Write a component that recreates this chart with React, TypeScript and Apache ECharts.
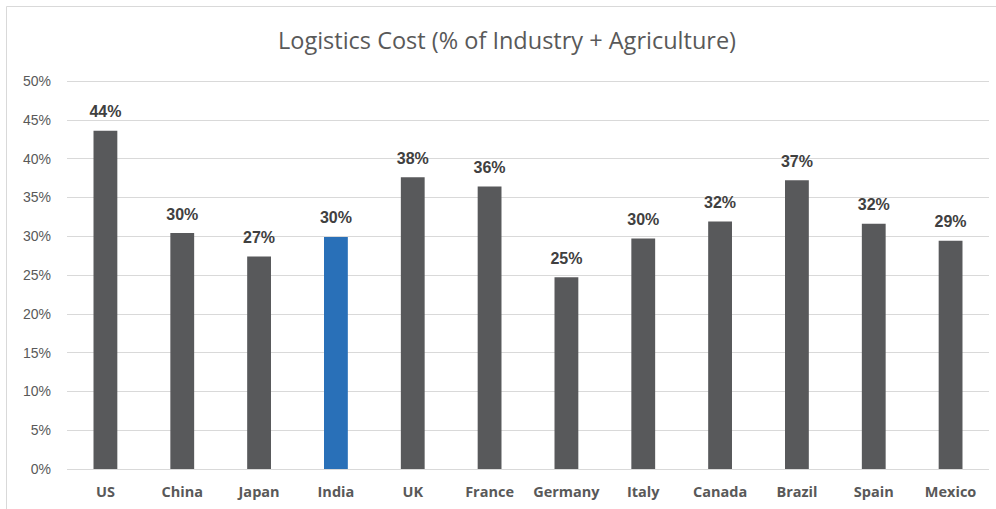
import React, { useEffect, useRef } from "react";
import * as echarts from "echarts";

const categories = ["US", "China", "Japan", "India", "UK", "France", "Germany", "Italy", "Canada", "Brazil", "Spain", "Mexico"];
const values = [43.6, 30.4, 27.4, 29.9, 37.6, 36.4, 24.7, 29.7, 31.9, 37.2, 31.6, 29.4];
const highlight = "India";
const yTicks = [0, 5, 10, 15, 20, 25, 30, 35, 40, 45, 50];
const titleText = "Logistics Cost (% of Industry + Agriculture)";

export default function App() {
  const ref = useRef<HTMLDivElement>(null);
  useEffect(() => {
    document.body.style.margin = "0";
    const chart = echarts.init(ref.current!, null, { renderer: "svg" });
    chart.setOption({
      animation: false,
      backgroundColor: "#ffffff",
      title: {
        text: titleText,
        left: 278,
        top: 28,
        padding: 0,
        textStyle: { fontFamily: "Open Sans", fontSize: 23.5, fontWeight: "normal", color: "#595959" },
      },
      graphic: [
        {
          type: "rect",
          shape: { x: 6.5, y: 6.5, width: 1000, height: 520 },
          style: { fill: "none", stroke: "#d9d9d9", lineWidth: 1 },
          silent: true,
        },
      ],
      grid: { left: 67, right: 7, top: 81, bottom: 40, containLabel: false },
      xAxis: {
        type: "category",
        data: categories,
        axisLine: { show: false },
        axisTick: { show: false },
        axisLabel: { interval: 0, fontFamily: "Open Sans", fontSize: 14.5, fontWeight: "bold", color: "#595959", margin: 15 },
      },
      yAxis: {
        type: "value",
        min: yTicks[0],
        max: yTicks[yTicks.length - 1],
        interval: 5,
        axisLine: { show: false },
        axisTick: { show: false },
        splitLine: { lineStyle: { color: "#d9d9d9", width: 1 } },
        axisLabel: { formatter: "{value}%", fontFamily: "Liberation Sans", fontSize: 14, color: "#595959", margin: 16 },
      },
      series: [
        {
          type: "bar",
          barWidth: "31%",
          data: values.map((v, i) => ({
            value: v,
            itemStyle: { color: categories[i] === highlight ? "#2970b8" : "#58595b" },
          })),
          label: {
            show: true,
            position: "top",
            distance: 11,
            formatter: (p: any) => Math.round(p.value) + "%",
            fontFamily: "Liberation Sans",
            fontSize: 16,
            fontWeight: "bold",
            color: "#404040",
          },
        },
      ],
    });
    return () => chart.dispose();
  }, []);
  return <div ref={ref} style={{ width: 996, height: 509 }} />;
}
